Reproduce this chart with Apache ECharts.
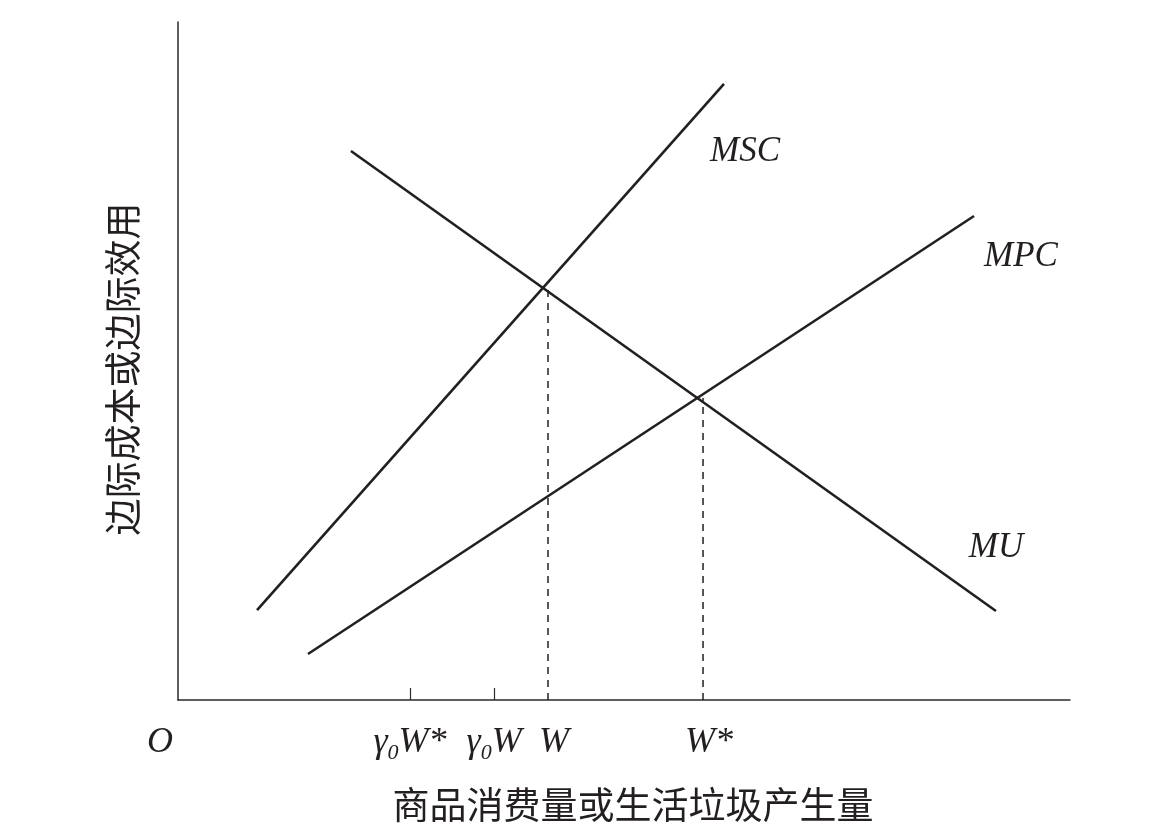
<!DOCTYPE html>
<html>
<head>
<meta charset="utf-8">
<script src="https://cdn.jsdelivr.net/npm/echarts@6/dist/echarts.min.js"></script>
<style>
html,body{margin:0;padding:0;background:#fff;}
#c{width:1152px;height:835px;}
</style>
</head>
<body>
<div id="c"></div>
<script>
// Curve endpoints in chart units (x: 0-100, y: 0-100)
var mscLine = [[8.86, 13.27], [61.21, 90.86]];
var muLine  = [[19.39, 80.97], [91.70, 13.13]];
var mpcLine = [[14.57, 6.78], [89.24, 71.39]];
// Dashed guides: x value and height where they meet MU
var guideW     = [[41.48, 0], [41.48, 61.21]];
var guideWStar = [[58.86, 0], [58.86, 44.54]];
// Tick marks and tick labels on the x axis
var tickValues = [26.01, 35.43];
var labelValues = [0, 26.01, 35.43, 41.48, 58.86];
var labelTexts = ['{o|O}', '{g|γ}{s|0}{g|W*}', '{g|γ}{s|0}{g|W}', '{w|W}', '{w|W*}'];
var curveNames = ['MSC', 'MPC', 'MU'];
var xTitle = '商品消费量或生活垃圾产生量';
var yTitle = '边际成本或边际效用';

var lineColor = '#231f20';
var serifItalic = {fontFamily: 'Liberation Serif', fontStyle: 'italic', fontSize: 35, color: '#231f20'};

function curve(name, data, offset) {
  return {
    type: 'line', name: name, data: data, showSymbol: false, silent: true,
    lineStyle: {color: lineColor, width: 2.6},
    endLabel: Object.assign({show: true, formatter: name, align: 'center', verticalAlign: 'middle', offset: offset, distance: 0}, serifItalic)
  };
}
function guide(data) {
  return {type: 'line', data: data, showSymbol: false, silent: true,
    lineStyle: {color: lineColor, width: 1.5, type: [7, 6]}};
}

var tickFont = {fontFamily: 'Liberation Serif', fontStyle: 'italic', fontSize: 36, color: '#231f20', lineHeight: 42, verticalAlign: 'middle'};
var chart = echarts.init(document.getElementById('c'), null, {renderer: 'canvas'});
chart.setOption({
  backgroundColor: '#fff',
  animation: false,
  grid: {left: 178, top: 22, width: 892, height: 678},
  xAxis: {
    type: 'value', min: 0, max: 100,
    name: xTitle, nameLocation: 'middle', nameGap: 86,
    nameTextStyle: {fontFamily: 'Noto Sans CJK SC', fontSize: 37, color: '#231f20', padding: [0, 0, 0, 18]},
    axisLine: {show: true, onZero: false, lineStyle: {color: '#2a2a2a', width: 1.5}},
    axisTick: {show: true, inside: true, length: 12, customValues: tickValues, lineStyle: {color: '#2a2a2a', width: 1.2}},
    axisLabel: {
      show: true, margin: 22, customValues: labelValues,
      formatter: function (v) { var i = labelValues.indexOf(v); return i >= 0 ? labelTexts[i] : ''; },
      rich: {
        g: tickFont,
        w: Object.assign({}, tickFont, {padding: [0, 0, 0, 12]}),
        s: {fontFamily: 'Liberation Serif', fontStyle: 'italic', fontSize: 22, color: '#231f20', lineHeight: 18, verticalAlign: 'bottom'},
        o: Object.assign({}, tickFont, {padding: [0, 36, 0, 0]})
      }
    },
    splitLine: {show: false}
  },
  yAxis: {
    type: 'value', min: 0, max: 100,
    name: yTitle, nameLocation: 'middle', nameGap: 37, nameRotate: 90,
    nameTextStyle: {fontFamily: 'Noto Sans CJK SC', fontSize: 37, color: '#231f20', padding: [0, 16, 0, 0]},
    axisLine: {show: true, onZero: false, lineStyle: {color: '#2a2a2a', width: 1.5}},
    axisTick: {show: false},
    axisLabel: {show: false},
    splitLine: {show: false}
  },
  series: [
    curve(curveNames[0], mscLine, [21, 68]),
    curve(curveNames[1], mpcLine, [47, 41]),
    curve(curveNames[2], muLine, [0, -63]),
    guide(guideW),
    guide(guideWStar)
  ]
});
</script>
</body>
</html>
